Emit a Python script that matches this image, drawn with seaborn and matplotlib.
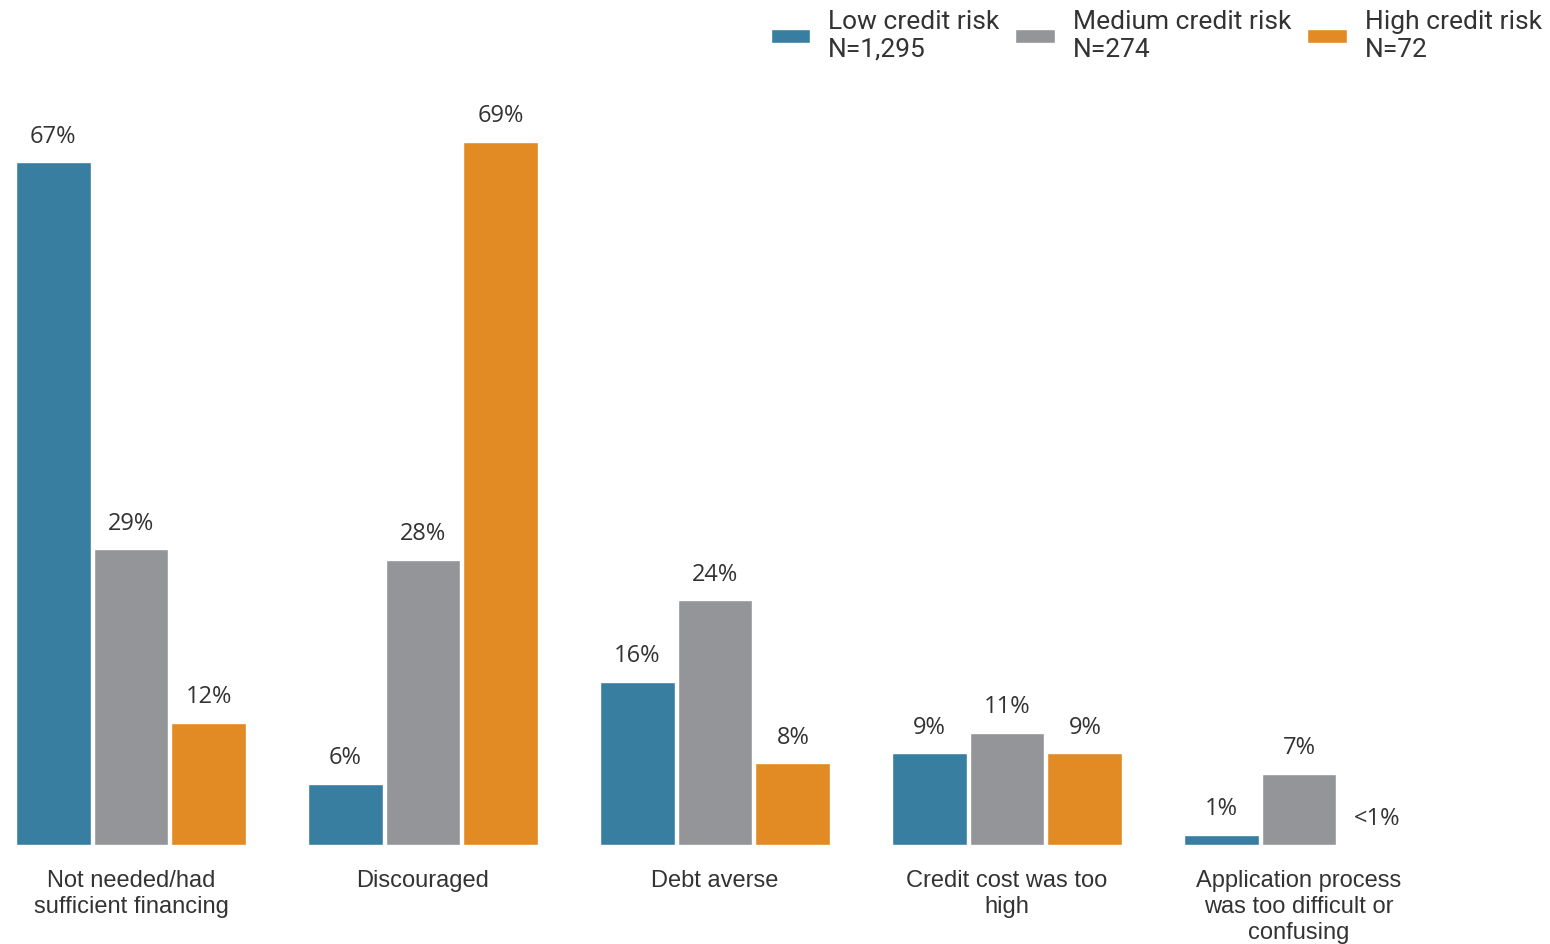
import matplotlib
matplotlib.use("Agg")
import matplotlib.pyplot as plt
import seaborn as sns
import pandas as pd

categories = [
    "Not needed/had\nsufficient financing",
    "Discouraged",
    "Debt averse",
    "Credit cost was too\nhigh",
    "Application process\nwas too difficult or\nconfusing",
]
series_names = ["Low credit risk\nN=1,295", "Medium credit risk\nN=274", "High credit risk\nN=72"]
low_values = [67, 6, 16, 9, 1]
medium_values = [29, 28, 24, 11, 7]
high_values = [12, 69, 8, 9, 0]
low_labels = ["67%", "6%", "16%", "9%", "1%"]
medium_labels = ["29%", "28%", "24%", "11%", "7%"]
high_labels = ["12%", "69%", "8%", "9%", "<1%"]
colors = ["#387EA0", "#949598", "#E28B24"]

rows = []
for name, vals in zip(series_names, [low_values, medium_values, high_values]):
    for c, v in zip(categories, vals):
        rows.append({"category": c, "series": name, "value": v})
df = pd.DataFrame(rows)

sns.set_theme(style="white")
plt.rcParams["font.family"] = ["Roboto", "DejaVu Sans"]
text_color = "#333333"

fig = plt.figure(figsize=(15.5, 9.44), dpi=100)
ax = fig.add_axes([0.0, 99 / 944, 1.0, 845 / 944])

sns.barplot(data=df, x="category", y="value", hue="series", hue_order=series_names,
            order=categories, palette=colors, saturation=1, width=0.8, gap=0.04,
            errorbar=None, ax=ax)

ax.set_xlim(-131 / 292, (1550 - 131) / 292)
ax.set_ylim(0, 845 / 10.19)

for cont, labs in zip(ax.containers, [low_labels, medium_labels, high_labels]):
    for bar, lab in zip(cont, labs):
        x = bar.get_x() + bar.get_width() / 2
        y = bar.get_height()
        ax.annotate(lab, (x, y), xytext=(0, 18.5), textcoords="offset points",
                    ha="center", va="center", fontsize=17, color=text_color,
                    family=["Open Sans", "DejaVu Sans"])

sns.despine(ax=ax, left=True, bottom=True)
ax.set_yticks([])
ax.set_xlabel("")
ax.set_ylabel("")
ax.tick_params(axis="x", length=0, pad=18)
for t in ax.get_xticklabels():
    t.set_fontfamily(["Liberation Sans", "DejaVu Sans"])
    t.set_fontsize(17)
    t.set_color(text_color)
    t.set_verticalalignment("top")
    t.set_linespacing(1.25)

handles, labels = ax.get_legend_handles_labels()
ax.get_legend().remove()
leg = fig.legend(handles, labels, loc="upper right", bbox_to_anchor=(0.998, 0.995),
                 ncol=3, frameon=False, fontsize=19, handlelength=1.5,
                 handleheight=0.42, handletextpad=0.68, columnspacing=0.6,
                 borderpad=0.2, borderaxespad=0.0)
for t in leg.get_texts():
    t.set_color(text_color)
    t.set_linespacing(1.2)

fig.savefig("out.png", dpi=100)
